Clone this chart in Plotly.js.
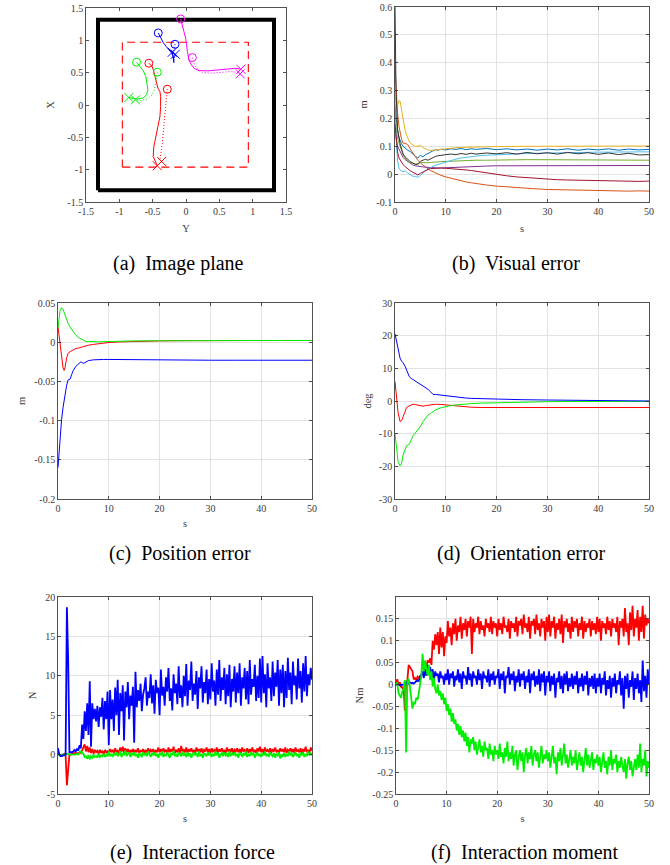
<!DOCTYPE html>
<html><head><meta charset="utf-8">
<script src="https://cdn.plot.ly/plotly-3.0.1.min.js"></script>
<style>html,body{margin:0;padding:0;background:#fff}#chart{width:670px;height:865px}</style>
</head><body><div id="chart"></div>
<script>
// ---------- (a) Image plane : Y (horizontal), X (vertical) ----------
const frameY = [-1.32, 1.32, 1.32, -1.32, -1.32];
const frameX = [-1.32, -1.32, 1.32, 1.32, -1.32];
const fovY = [-0.955, 0.935, 0.935, -0.955, -0.955];
const fovX = [-0.96, -0.96, 0.97, 0.97, -0.96];

const redSolidY = [-0.557,-0.507,-0.482,-0.466,-0.446,-0.421,-0.391,-0.381,-0.381,-0.391,-0.421,-0.456,-0.482,-0.492,-0.456,-0.431];
const redSolidX = [0.646,0.594,0.517,0.440,0.337,0.260,0.208,0.131,-0.024,-0.178,-0.332,-0.487,-0.641,-0.795,-0.898,-0.940];
const redDotY = [-0.281,-0.291,-0.301,-0.316,-0.336,-0.356,-0.376,-0.391,-0.366];
const redDotX = [0.244,0.131,-0.024,-0.229,-0.435,-0.590,-0.744,-0.847,-0.873];
const greenSolidY = [-0.742,-0.692,-0.642,-0.602,-0.582,-0.572,-0.592,-0.642,-0.732,-0.808,-0.858];
const greenSolidX = [0.661,0.604,0.532,0.440,0.337,0.234,0.157,0.110,0.090,0.100,0.116];
const greenDotY = [-0.431,-0.451,-0.466,-0.507,-0.582,-0.682,-0.758];
const greenDotX = [0.507,0.388,0.260,0.157,0.090,0.069,0.080];
const blueSolidY = [-0.416,-0.381,-0.341,-0.296,-0.251,-0.221,-0.191,-0.181,-0.195,-0.206];
const blueSolidX = [1.114,1.037,0.965,0.903,0.852,0.810,0.749,0.656,0.745,0.816];
const blueDotY = [-0.165,-0.175,-0.185,-0.170,-0.181,-0.160];
const blueDotX = [0.939,0.877,0.810,0.749,0.697,0.785];
const magSolidY = [-0.080,-0.055,-0.030,-0.005,0.010,0.020,0.045,0.081,0.121,0.196,0.321,0.472,0.622,0.748,0.823];
const magSolidX = [1.330,1.2375,1.135,1.032,0.929,0.826,0.697,0.620,0.568,0.532,0.527,0.543,0.563,0.568,0.553];
const magDotY = [0.095,0.131,0.181,0.246,0.372,0.522,0.673,0.773,0.813];
const magDotX = [0.733,0.620,0.543,0.502,0.491,0.502,0.517,0.502,0.481];

// ---------- (b) Visual error ----------
const tB = [0,0.2,0.5,0.8,1, 1.3,1.6,2,2.5,3, 3.5,4,4.5,5,5.5, 6,6.5,7,7.5,8, 8.5,9,10,11,12, 13,14,15,16,18, 20,22,24,26,28, 30,32,34,36,38, 40,42,44,46,48, 50];
const bBlue = [0.24,0.2,0.16,0.13,0.12, 0.11,0.1,0.092,0.086,0.081, 0.072,0.064,0.058,0.068,0.062, 0.07,0.074,0.08,0.084,0.088, 0.086,0.089,0.087,0.091,0.089, 0.092,0.088,0.091,0.089,0.092, 0.088,0.091,0.087,0.09,0.086, 0.09,0.087,0.091,0.086,0.09, 0.087,0.091,0.086,0.09,0.087, 0.089];
const bOrange = [0.39,0.3,0.22,0.17,0.145, 0.125,0.112,0.11,0.107,0.09, 0.075,0.063,0.05,0.04,0.032, 0.025,0.019,0.013,0.008,0.003, -0.001,-0.004,-0.01,-0.015,-0.02, -0.024,-0.028,-0.031,-0.034,-0.039, -0.043,-0.046,-0.049,-0.051,-0.053, -0.055,-0.056,-0.057,-0.058,-0.059, -0.059,-0.06,-0.06,-0.061,-0.06, -0.061];
const bYellow = [0.3,0.24,0.245,0.265,0.262, 0.23,0.19,0.155,0.13,0.112, 0.105,0.1,0.1,0.104,0.095, 0.09,0.087,0.085,0.086,0.088, 0.09,0.091,0.093,0.094,0.095, 0.096,0.096,0.097,0.097,0.098, 0.099,0.1,0.1,0.1,0.1, 0.1,0.101,0.1,0.101,0.1, 0.101,0.101,0.1,0.101,0.101, 0.101];
const bPurple = [0.17,0.13,0.1,0.088,0.081, 0.07,0.06,0.052,0.045,0.038, 0.033,0.03,0.028,0.027,0.026, 0.025,0.024,0.023,0.022,0.022, 0.022,0.022,0.023,0.024,0.025, 0.026,0.026,0.027,0.028,0.029, 0.03,0.03,0.031,0.03,0.031, 0.03,0.031,0.029,0.031,0.03, 0.03,0.031,0.029,0.03,0.029, 0.031];
const bGreen = [0.25,0.17,0.13,0.108,0.099, 0.085,0.07,0.058,0.047,0.042, 0.039,0.036,0.034,0.042,0.041, 0.041,0.041,0.042,0.042,0.043, 0.044,0.045,0.046,0.047,0.048, 0.048,0.049,0.049,0.05,0.05, 0.051,0.051,0.052,0.052,0.052, 0.052,0.051,0.052,0.051,0.051, 0.051,0.05,0.051,0.05,0.05, 0.05];
const bLightBlue = [0.2,0.12,0.05,0.02,0.015, 0.01,0.009,0.012,0.004,-0.003, -0.007,-0.009,-0.011,-0.005,0.005, 0.012,0.018,0.024,0.028,0.032, 0.035,0.038,0.044,0.049,0.054, 0.058,0.061,0.063,0.065,0.068, 0.07,0.072,0.073,0.074,0.075, 0.076,0.077,0.077,0.078,0.078, 0.079,0.079,0.08,0.08,0.08, 0.08];
const bDarkRed = [0.18,0.13,0.08,0.058,0.051, 0.042,0.034,0.027,0.018,0.012, 0.007,0.002,-0.003,0.003,0.008, 0.013,0.017,0.02,0.021,0.022, 0.022,0.022,0.021,0.02,0.019, 0.017,0.015,0.013,0.01,0.004, -0.002,-0.006,-0.01,-0.013,-0.016, -0.018,-0.02,-0.021,-0.022,-0.023, -0.024,-0.024,-0.025,-0.025,-0.026, -0.025];
const bBlack = [0.6,0.3,0.16,0.12,0.11, 0.09,0.072,0.062,0.053,0.045, 0.04,0.035,0.037,0.046,0.05, 0.053,0.05,0.055,0.06,0.064, 0.066,0.068,0.07,0.072,0.07, 0.074,0.071,0.075,0.072,0.076, 0.073,0.077,0.072,0.078,0.073, 0.077,0.072,0.078,0.073,0.077, 0.071,0.076,0.07,0.075,0.069, 0.07];

// ---------- (c) Position error ----------
const tC = [0,0.2,0.4,0.7,1, 1.2,1.4,1.7,2,2.4, 2.7,3,3.5,4,4.5, 5,5.5,6,7,8, 9,10,12,14,16, 18,20,25,30,35, 40,45,50];
const cGreen = [0.018,0.03,0.04,0.044,0.042, 0.038,0.034,0.028,0.024,0.019, 0.016,0.013,0.009,0.006,0.004, 0.002,0.001,0.001,0.0005,0.0005, 0.0007,0.001,0.0012,0.0015,0.0017, 0.0018,0.002,0.002,0.0022,0.0022, 0.0022,0.0022,0.0022];
const cRed = [0.02,0.01,-0.004,-0.022,-0.033, -0.036,-0.032,-0.02,-0.014,-0.012, -0.011,-0.009,-0.008,-0.0075,-0.0065, -0.0055,-0.0045,-0.0038,-0.0028,-0.0018, -0.001,-0.0004,0.0003,0.0008,0.0012, 0.0015,0.0017,0.002,0.0022,0.0022, 0.0022,0.0022,0.0022];
const cBlue = [-0.16,-0.138,-0.118,-0.099,-0.083, -0.074,-0.066,-0.055,-0.048,-0.047, -0.041,-0.036,-0.031,-0.028,-0.025, -0.027,-0.025,-0.0235,-0.0225,-0.022, -0.022,-0.022,-0.0222,-0.0224,-0.0226, -0.0227,-0.0228,-0.0229,-0.023,-0.023, -0.023,-0.023,-0.023];

// ---------- (d) Orientation error ----------
const tD = [0,0.3,0.6,1,1.3, 1.6,2,2.3,2.8,3.2, 3.6,4,4.5,5,5.5, 6,6.5,7,7.5,8, 9,10,11,12,13, 14,15,17,20,25, 30,35,40,45,50];
const dBlue = [20.6,18.5,16.0,13.1,12.2, 11.7,10.6,9.3,7.5,6.9, 6.5,6.0,5.5,4.9,4.6, 4.1,3.6,2.8,2.0,2.0, 1.8,1.5,1.3,1.1,1.0, 0.9,0.8,0.7,0.6,0.4, 0.3,0.2,0.1,0.05,0.0];
const dRed = [6.0,1.5,-3.5,-6.3,-6.0, -4.8,-3.2,-1.95,-1.5,-1.2, -1.0,-1.1,-1.3,-1.5,-1.6, -1.4,-1.3,-1.2,-1.1,-1.0, -1.05,-1.2,-1.35,-1.5,-1.65, -1.8,-1.9,-2.0,-2.0,-2.0, -2.1,-2.0,-2.0,-2.1,-2.0];
const dGreen = [-10.0,-14.5,-18.5,-19.8,-19.0, -16.5,-14.5,-13.6,-13.3,-12.0, -10.5,-9.8,-8.8,-7.8,-6.3, -5.2,-4.3,-3.8,-3.3,-2.7, -2.1,-1.7,-1.4,-1.2,-1.0, -0.9,-0.8,-0.65,-0.5,-0.35, -0.2,-0.15,-0.1,-0.1,-0.1];

// ---------- (e)/(f) sampled every 0.25 s ----------
const tN = Array.from({length: 201}, (_, i) => i * 0.25);
const eBlue = [
0.8,0.0,-0.2,-0.2,-0.1,-0.1,0.0,18.7,12.0,0.3,0.3,0.3,0.4,0.6,0.4,0.7,0.5,1.2,0.8,3.8,
2.0,5.5,3.0,6.5,2.5,9.3,1.0,6.5,4.5,5.8,4.2,6.2,3.5,6.0,4.8,7.2,3.2,6.8,4.5,8.0,
1.2,8.2,4.5,7.0,3.0,8.5,5.0,9.5,2.5,7.8,5.5,8.8,1.8,8.0,6.0,9.2,4.5,7.5,6.2,8.6,
1.5,10.5,6.0,8.2,6.8,9.0,5.5,7.6,8.4,9.8,6.2,8.0,7.2,10.2,6.5,8.8,5.2,9.5,7.8,8.5,
5.0,10.8,7.5,8.6,6.2,9.8,8.0,11.0,6.8,8.4,5.6,10.2,7.8,9.0,6.4,11.2,7.2,8.8,6.0,10.0,
7.4,11.5,6.2,9.4,8.2,11.8,6.8,9.0,7.6,10.6,5.8,9.8,8.4,11.2,6.6,9.2,7.8,10.8,6.4,9.6,
7.0,11.6,8.0,9.4,6.2,10.8,7.6,12.0,6.8,9.8,8.2,11.0,6.4,10.2,7.4,11.4,6.0,9.6,8.0,11.2,
6.6,10.4,7.8,11.6,6.2,9.8,8.4,11.0,7.0,10.6,6.4,12.0,7.6,9.6,8.6,11.4,6.8,10.0,7.2,12.2,
6.6,12.5,7.8,10.2,6.0,11.6,8.4,9.8,6.8,11.8,7.4,10.4,8.6,12.0,6.2,10.8,7.8,11.4,6.0,10.6,
7.2,12.3,8.2,10.4,6.4,11.8,8.8,10.0,7.0,12.2,8.4,10.6,6.6,11.6,8.0,12.5,7.4,10.2,8.8,11.0,
9.5];
const eRed = [
0.2,0.0,-0.1,0.0,0.0,0.1,0.0,-3.9,-2.3,0.0,0.0,0.1,0.1,0.2,0.1,0.2,0.1,0.3,0.2,0.5,
0.8,1.3,0.4,1.1,0.3,0.9,0.2,0.7,0.1,0.6,0.3,0.5,0.1,0.6,0.2,0.5,0.0,0.6,0.2,0.5,
0.1,0.7,0.3,0.6,0.2,0.8,0.3,0.5,0.1,0.9,0.4,1.0,0.2,0.8,0.3,0.7,0.1,0.6,0.3,0.7,
0.2,0.6,0.3,0.8,0.2,0.5,0.4,0.7,0.1,0.6,0.3,0.8,0.2,0.6,0.4,0.7,0.2,0.5,0.3,0.9,
0.3,0.7,0.2,0.8,0.4,0.6,0.1,0.9,0.3,0.7,0.4,1.0,0.2,0.6,0.3,0.8,0.2,1.1,0.4,0.6,
0.3,0.9,0.2,0.7,0.4,0.8,0.3,0.6,0.2,0.9,0.4,0.7,0.3,0.8,0.2,0.6,0.4,0.9,0.3,0.7,
0.2,0.8,0.4,0.6,0.3,0.9,0.2,0.7,0.4,0.8,0.3,0.6,0.2,0.9,0.4,0.7,0.3,0.8,0.2,0.6,
0.4,0.8,0.3,0.7,0.2,0.9,0.4,0.6,0.3,0.8,0.2,0.7,0.4,0.9,0.3,0.6,0.2,0.8,0.4,1.0,
0.3,0.7,0.2,0.9,0.4,0.6,0.3,0.8,0.2,0.7,0.4,0.9,0.3,0.6,0.2,0.8,0.4,0.7,0.3,0.9,
0.2,0.6,0.4,0.8,0.3,0.7,0.2,0.9,0.4,0.6,0.3,0.8,0.2,0.7,0.4,1.0,0.3,0.6,0.2,0.9,
0.5];
const eGreen = [
0.0,-0.1,-0.1,0.0,0.0,0.0,0.0,0.1,0.0,0.0,0.0,0.0,0.0,0.0,0.0,0.1,0.0,0.2,0.4,0.3,
0.1,-0.3,-0.2,-0.5,-0.1,-0.6,-0.2,-0.4,0.0,-0.3,-0.2,-0.4,0.1,-0.3,-0.1,-0.2,0.1,-0.3,0.0,-0.2,
0.4,-0.2,0.1,-0.3,0.2,-0.1,0.3,-0.2,0.0,0.4,-0.3,0.2,-0.1,0.5,-0.2,0.1,0.3,-0.3,0.2,-0.1,
0.3,-0.2,0.1,-0.4,0.2,0.0,-0.3,0.3,-0.1,0.2,-0.2,0.4,0.0,-0.3,0.2,-0.1,0.3,-0.2,0.1,-0.4,
0.2,-0.1,0.4,-0.3,0.1,-0.2,0.3,0.0,-0.4,0.2,-0.1,0.5,-0.2,0.1,-0.3,0.3,0.0,-0.2,0.4,-0.1,
0.1,-0.3,0.3,-0.2,0.2,-0.4,0.0,0.3,-0.1,0.2,-0.3,0.4,-0.2,0.1,-0.4,0.2,0.0,-0.2,0.3,-0.1,
0.2,-0.3,0.1,-0.2,0.4,-0.1,0.3,-0.4,0.0,0.2,-0.2,0.3,-0.1,0.1,-0.3,0.4,-0.2,0.2,-0.1,0.3,
-0.2,0.1,-0.4,0.3,0.0,-0.2,0.2,-0.1,0.4,-0.3,0.1,-0.2,0.3,-0.1,0.2,-0.4,0.0,0.3,-0.2,0.1,
-0.3,0.2,-0.1,0.4,-0.2,0.1,-0.3,0.3,0.0,-0.2,0.2,-0.4,0.1,-0.1,0.3,-0.5,0.0,-0.2,0.2,-0.3,
0.1,-0.2,0.4,-0.1,0.2,-0.3,0.0,0.3,-0.2,0.1,-0.4,0.2,-0.1,0.3,-0.3,0.1,-0.2,0.4,-0.1,0.2,
-0.1];
const fRed = [
0.0,0.012,0.0,0.005,-0.005,-0.008,-0.005,-0.06,0.0,0.01,0.045,0.04,0.035,0.03,0.012,0.015,0.01,0.018,0.015,0.02,
0.02,0.025,0.03,0.045,0.04,0.055,0.05,0.06,0.045,0.1,0.08,0.115,0.09,0.12,0.07,0.13,0.085,0.12,0.065,0.11,
0.095,0.145,0.11,0.13,0.09,0.14,0.115,0.15,0.10,0.135,0.12,0.155,0.105,0.14,0.125,0.15,0.11,0.145,0.13,0.155,
0.07,0.15,0.12,0.14,0.13,0.155,0.115,0.145,0.125,0.135,0.11,0.15,0.13,0.14,0.12,0.155,0.115,0.145,0.13,0.14,
0.11,0.15,0.125,0.14,0.115,0.155,0.13,0.135,0.12,0.15,0.105,0.145,0.13,0.14,0.12,0.155,0.11,0.145,0.135,0.15,
0.115,0.16,0.13,0.14,0.12,0.155,0.105,0.145,0.135,0.15,0.115,0.16,0.125,0.14,0.11,0.15,0.13,0.145,0.1,0.155,
0.12,0.16,0.11,0.145,0.13,0.155,0.105,0.14,0.125,0.15,0.115,0.16,0.095,0.145,0.13,0.15,0.12,0.14,0.105,0.155,
0.12,0.145,0.13,0.15,0.11,0.14,0.125,0.155,0.105,0.145,0.12,0.14,0.13,0.15,0.11,0.145,0.125,0.14,0.115,0.155,
0.12,0.15,0.10,0.145,0.13,0.14,0.115,0.155,0.125,0.145,0.11,0.15,0.13,0.14,0.12,0.155,0.09,0.145,0.13,0.15,
0.11,0.175,0.12,0.14,0.09,0.165,0.125,0.18,0.11,0.15,0.13,0.17,0.10,0.155,0.12,0.18,0.105,0.16,0.135,0.15,
0.14];
const fBlue = [
0.0,0.0,0.0,-0.002,0.0,0.0,0.0,0.0,0.005,0.0,0.002,0.005,0.003,0.004,0.002,0.005,0.006,0.01,0.008,0.015,
0.02,0.03,0.015,0.035,0.02,0.045,0.025,0.04,0.015,0.035,0.01,0.03,0.02,0.025,0.005,0.03,0.015,0.02,0.0,0.025,
0.01,0.035,0.0,0.025,0.015,0.03,-0.005,0.02,0.01,0.035,0.005,0.025,-0.01,0.03,0.015,0.02,0.0,0.04,0.01,0.025,
-0.005,0.03,0.015,0.02,0.0,0.035,0.01,0.025,-0.01,0.03,0.015,0.02,0.005,0.035,-0.005,0.025,0.01,0.03,0.0,0.02,
0.015,0.035,-0.01,0.025,0.01,0.03,-0.02,0.02,0.015,0.04,0.0,0.025,0.01,0.03,-0.015,0.02,0.005,0.035,-0.005,0.025,
0.01,0.03,-0.01,0.02,0.005,0.035,-0.02,0.025,0.01,0.03,-0.005,0.02,0.0,0.035,-0.015,0.025,0.005,0.03,-0.025,0.02,
0.005,0.03,-0.015,0.02,0.0,0.025,-0.03,0.015,0.005,0.03,-0.01,0.02,-0.02,0.025,0.0,0.03,-0.015,0.015,-0.005,0.025,
-0.01,0.02,0.0,0.03,-0.02,0.015,-0.005,0.025,-0.015,0.02,0.0,0.03,-0.025,0.015,-0.005,0.02,-0.01,0.025,-0.02,0.015,
-0.005,0.025,-0.02,0.015,0.0,0.03,-0.025,0.01,-0.01,0.02,-0.03,0.015,-0.005,0.025,-0.02,0.01,0.0,0.03,-0.025,0.015,
-0.055,0.02,-0.01,0.025,-0.03,0.01,-0.005,0.03,-0.035,0.015,-0.01,0.025,-0.02,0.01,-0.04,0.055,-0.015,0.02,-0.03,0.035,
0.0];
const fGreen = [
0.0,0.005,-0.02,-0.025,-0.03,-0.015,-0.01,0.01,-0.155,0.01,0.012,-0.005,-0.03,-0.055,-0.04,-0.045,-0.03,-0.035,-0.02,0.0,
0.02,0.07,0.03,0.055,0.04,0.02,0.045,0.01,0.03,-0.005,0.015,-0.01,-0.02,0.0,-0.025,-0.015,-0.035,-0.02,-0.045,-0.03,
-0.06,-0.045,-0.07,-0.055,-0.085,-0.065,-0.09,-0.08,-0.105,-0.09,-0.115,-0.095,-0.12,-0.105,-0.13,-0.11,-0.14,-0.12,-0.155,-0.125,
-0.135,-0.12,-0.15,-0.13,-0.16,-0.14,-0.125,-0.155,-0.14,-0.165,-0.13,-0.15,-0.145,-0.17,-0.135,-0.16,-0.15,-0.175,-0.14,-0.16,
-0.15,-0.17,-0.135,-0.165,-0.155,-0.18,-0.145,-0.165,-0.13,-0.175,-0.155,-0.17,-0.14,-0.185,-0.16,-0.15,-0.195,-0.165,-0.15,-0.175,
-0.155,-0.2,-0.16,-0.145,-0.18,-0.155,-0.17,-0.14,-0.185,-0.16,-0.15,-0.175,-0.155,-0.19,-0.165,-0.14,-0.18,-0.16,-0.17,-0.15,
-0.175,-0.155,-0.19,-0.16,-0.14,-0.18,-0.165,-0.205,-0.155,-0.175,-0.145,-0.185,-0.165,-0.135,-0.18,-0.16,-0.19,-0.17,-0.15,-0.185,
-0.165,-0.18,-0.15,-0.195,-0.17,-0.155,-0.185,-0.165,-0.2,-0.17,-0.145,-0.185,-0.16,-0.19,-0.175,-0.155,-0.195,-0.17,-0.18,-0.16,
-0.185,-0.165,-0.2,-0.17,-0.155,-0.19,-0.175,-0.205,-0.165,-0.185,-0.15,-0.195,-0.17,-0.18,-0.16,-0.2,-0.175,-0.19,-0.165,-0.185,
-0.2,-0.17,-0.215,-0.18,-0.165,-0.195,-0.175,-0.21,-0.185,-0.17,-0.195,-0.16,-0.19,-0.135,-0.2,-0.17,-0.185,-0.15,-0.21,-0.175,
-0.19];

// ---------- tick labels ----------
const ticksA = [-1.5,-1,-0.5,0,0.5,1,1.5];
const ticksAText = ['-1.5','-1','-0.5','0','0.5','1','1.5'];
const ticksT = [0,10,20,30,40,50];
const ticksTText = ['0','10','20','30','40','50'];
const ticksB = [-0.1,0,0.1,0.2,0.3,0.4,0.5,0.6];
const ticksBText = ['-0.1','0','0.1','0.2','0.3','0.4','0.5','0.6'];
const ticksC = [-0.2,-0.15,-0.1,-0.05,0,0.05];
const ticksCText = ['-0.2','-0.15','-0.1','-0.05','0','0.05'];
const ticksD = [-30,-20,-10,0,10,20,30];
const ticksDText = ['-30','-20','-10','0','10','20','30'];
const ticksE = [-5,0,5,10,15,20];
const ticksEText = ['-5','0','5','10','15','20'];
const ticksF = [-0.25,-0.2,-0.15,-0.1,-0.05,0,0.05,0.1,0.15];
const ticksFText = ['-0.25','-0.2','-0.15','-0.1','-0.05','0','0.05','0.1','0.15'];

const captions = ['(a)\u00a0 Image plane','(b)\u00a0 Visual error','(c)\u00a0 Position error','(d)\u00a0 Orientation error','(e)\u00a0 Interaction force','(f)\u00a0 Interaction moment'];

// ---------- build ----------
const FONT = '"Liberation Serif", "Times New Roman", Times, serif';
const W = 670, H = 865;
const px = v => v / W, py = v => 1 - v / H;

function axis(d0, d1, anchor, vals, text, range, grid, title, standoff) {
  return {
    domain: [d0, d1], anchor: anchor, range: range,
    tickmode: 'array', tickvals: vals, ticktext: text,
    ticks: 'inside', ticklen: 3, tickwidth: 0.8, tickcolor: '#262626',
    showline: true, linecolor: '#262626', linewidth: 0.8, mirror: 'ticks',
    showgrid: grid, gridcolor: '#e2e2e2', gridwidth: 1, zeroline: false,
    tickfont: {family: FONT, size: 10, color: '#3a3a3a'},
    title: {text: title, font: {family: FONT, size: 10.5, color: '#3a3a3a'}, standoff: standoff},
    automargin: false, fixedrange: true
  };
}

function line(x, y, color, xa, ya, width, dash) {
  return {x: x, y: y, type: 'scatter', mode: 'lines', xaxis: xa, yaxis: ya,
    line: {color: color, width: width || 1, dash: dash || 'solid'}, hoverinfo: 'skip'};
}
function marks(x, y, color, symbol, xa, ya, size) {
  return {x: x, y: y, type: 'scatter', mode: 'markers', xaxis: xa, yaxis: ya,
    marker: {symbol: symbol, size: size, color: color, line: {color: color, width: 1}}, hoverinfo: 'skip'};
}

const RED = '#ff0000', GRN = '#00ee00', BLU = '#0000ff', MAG = '#ff00ff';
const DOT = '1px,2px';

const traces = [
  // (a)
  line(frameY, frameX, '#000000', 'x', 'y', 4),
  line(fovY, fovX, RED, 'x', 'y', 1.1, '8px,5px'),
  line(redSolidY, redSolidX, RED, 'x', 'y', 1),
  line(redDotY, redDotX, RED, 'x', 'y', 1, DOT),
  line(greenSolidY, greenSolidX, GRN, 'x', 'y', 1),
  line(greenDotY, greenDotX, GRN, 'x', 'y', 1, DOT),
  line(blueSolidY, blueSolidX, BLU, 'x', 'y', 1),
  line(blueDotY, blueDotX, BLU, 'x', 'y', 1, DOT),
  line(magSolidY, magSolidX, MAG, 'x', 'y', 1),
  line(magDotY, magDotX, MAG, 'x', 'y', 1, DOT),
  marks([redSolidY[0], redDotY[0]], [redSolidX[0], redDotX[0]], RED, 'circle-open', 'x', 'y', 8),
  marks([redSolidY[redSolidY.length-1], redDotY[redDotY.length-1]], [redSolidX[redSolidX.length-1], redDotX[redDotX.length-1]], RED, 'x-thin-open', 'x', 'y', 9),
  marks([greenSolidY[0], greenDotY[0]], [greenSolidX[0], greenDotX[0]], GRN, 'circle-open', 'x', 'y', 8),
  marks([greenSolidY[greenSolidY.length-1], greenDotY[greenDotY.length-1]], [greenSolidX[greenSolidX.length-1], greenDotX[greenDotX.length-1]], GRN, 'x-thin-open', 'x', 'y', 9),
  marks([blueSolidY[0], blueDotY[0]], [blueSolidX[0], blueDotX[0]], BLU, 'circle-open', 'x', 'y', 8),
  marks([blueSolidY[blueSolidY.length-1], blueDotY[blueDotY.length-1]], [blueSolidX[blueSolidX.length-1], blueDotX[blueDotX.length-1]], BLU, 'x-thin-open', 'x', 'y', 9),
  marks([magSolidY[0], magDotY[0]], [magSolidX[0], magDotX[0]], MAG, 'circle-open', 'x', 'y', 8),
  marks([magSolidY[magSolidY.length-1], magDotY[magDotY.length-1]], [magSolidX[magSolidX.length-1], magDotX[magDotX.length-1]], MAG, 'x-thin-open', 'x', 'y', 9),
  // (b)
  line(tB, bBlue, '#0072BD', 'x2', 'y2'),
  line(tB, bOrange, '#D95319', 'x2', 'y2'),
  line(tB, bYellow, '#EDB120', 'x2', 'y2'),
  line(tB, bPurple, '#7E2F8E', 'x2', 'y2'),
  line(tB, bGreen, '#77AC30', 'x2', 'y2'),
  line(tB, bLightBlue, '#4DBEEE', 'x2', 'y2'),
  line(tB, bDarkRed, '#A2142F', 'x2', 'y2'),
  line(tB, bBlack, '#333333', 'x2', 'y2'),
  // (c)
  line(tC, cRed, RED, 'x3', 'y3'),
  line(tC, cGreen, GRN, 'x3', 'y3'),
  line(tC, cBlue, BLU, 'x3', 'y3'),
  // (d)
  line(tD, dRed, RED, 'x4', 'y4'),
  line(tD, dGreen, GRN, 'x4', 'y4'),
  line(tD, dBlue, BLU, 'x4', 'y4'),
  // (e)
  line(tN, eRed, RED, 'x5', 'y5', 1.8),
  line(tN, eGreen, GRN, 'x5', 'y5', 1.8),
  line(tN, eBlue, BLU, 'x5', 'y5', 1.8),
  // (f)
  line(tN, fRed, RED, 'x6', 'y6', 1.8),
  line(tN, fBlue, BLU, 'x6', 'y6', 1.8),
  line(tN, fGreen, GRN, 'x6', 'y6', 1.8)
];

const capPos = [[178, 263], [516, 263], [180, 553], [521, 553], [193, 852], [525, 852]];

const layout = {
  width: W, height: H, margin: {l: 0, r: 0, t: 0, b: 0},
  paper_bgcolor: '#ffffff', plot_bgcolor: '#ffffff', showlegend: false,
  xaxis:  axis(px(86), px(286), 'y', ticksA, ticksAText, [-1.5, 1.5], false, 'Y', 8),
  yaxis:  axis(py(202), py(8), 'x', ticksA, ticksAText, [-1.5, 1.5], false, 'X', 10),
  xaxis2: axis(px(395), px(649), 'y2', ticksT, ticksTText, [0, 50], true, 's', 8),
  yaxis2: axis(py(202), py(7), 'x2', ticksB, ticksBText, [-0.1, 0.6], true, 'm', 6),
  xaxis3: axis(px(58), px(312), 'y3', ticksT, ticksTText, [0, 50], true, 's', 6),
  yaxis3: axis(py(499), py(303), 'x3', ticksC, ticksCText, [-0.2, 0.05], true, 'm', 6),
  xaxis4: axis(px(395), px(649), 'y4', ticksT, ticksTText, [0, 50], true, '', 2),
  yaxis4: axis(py(499), py(303), 'x4', ticksD, ticksDText, [-30, 30], true, 'deg', 5),
  xaxis5: axis(px(58), px(312), 'y5', ticksT, ticksTText, [0, 50], true, 's', 6),
  yaxis5: axis(py(794), py(597), 'x5', ticksE, ticksEText, [-5, 20], true, 'N', 6),
  xaxis6: axis(px(396), px(649), 'y6', ticksT, ticksTText, [0, 50], true, 's', 6),
  yaxis6: axis(py(794), py(597), 'x6', ticksF, ticksFText, [-0.25, 0.2], true, 'Nm', 6),
  annotations: captions.map((c, i) => ({
    text: c, xref: 'paper', yref: 'paper', x: px(capPos[i][0]), y: py(capPos[i][1]),
    xanchor: 'center', yanchor: 'middle', showarrow: false,
    font: {family: FONT, size: 20, color: '#000000'}
  }))
};

Plotly.newPlot('chart', traces, layout, {staticPlot: true, displayModeBar: false});
</script>
</body></html>
